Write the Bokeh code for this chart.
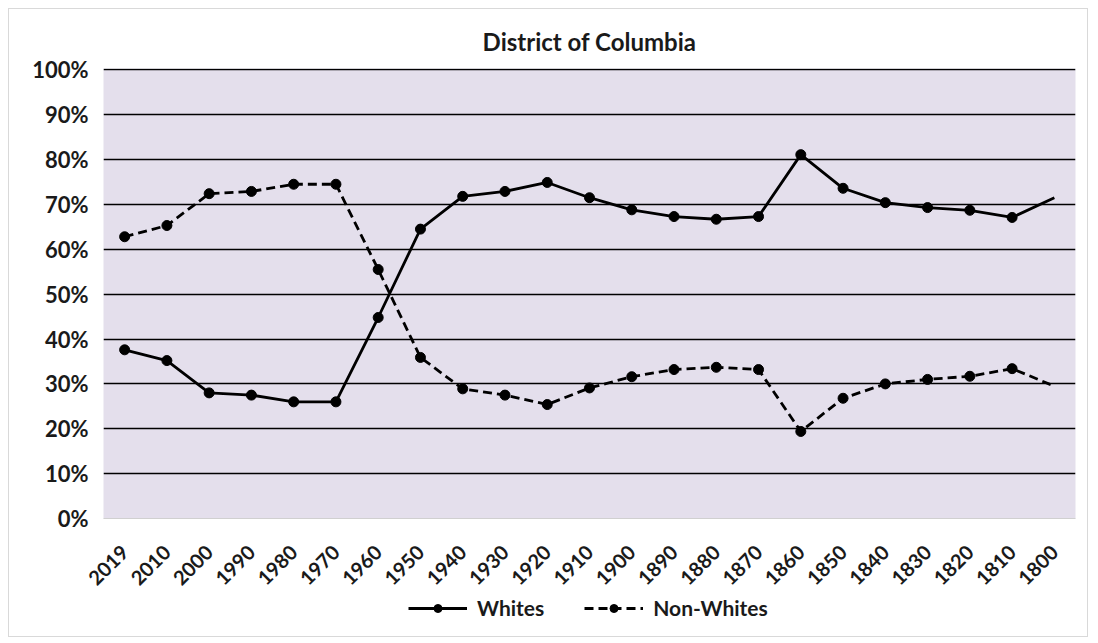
import math
from bokeh.plotting import figure
from bokeh.layouts import column
from bokeh.models import (FixedTicker, PrintfTickFormatter, Legend, LegendItem,
                          FactorRange, Range1d, ColumnDataSource)
from bokeh.embed import file_html
from bokeh.resources import INLINE

# ---- data (percent) ----
years = ["2019", "2010", "2000", "1990", "1980", "1970", "1960", "1950", "1940",
         "1930", "1920", "1910", "1900", "1890", "1880", "1870", "1860", "1850",
         "1840", "1830", "1820", "1810", "1800"]
whites = [37.6, 35.2, 28.0, 27.5, 26.0, 26.0, 44.8, 64.5, 71.8, 72.9, 74.9, 71.5,
          68.8, 67.3, 66.7, 67.3, 81.1, 73.6, 70.4, 69.3, 68.7, 67.1, 71.5]
non_whites = [62.8, 65.3, 72.4, 72.9, 74.5, 74.5, 55.5, 35.9, 28.9, 27.5, 25.4, 29.1,
              31.6, 33.2, 33.7, 33.2, 19.4, 26.8, 30.0, 31.0, 31.7, 33.4, 29.5]
y_ticks = [0, 10, 20, 30, 40, 50, 60, 70, 80, 90, 100]
series_names = ["Whites", "Non-Whites"]
title_text = "District of Columbia"

FONT = "Lato"
TXT = "#1a1a1a"

src = ColumnDataSource(dict(year=years, w=whites, nw=non_whites))
# markers are shown on all points except the last one (1800)
src_m = ColumnDataSource(dict(year=years[:-1], w=whites[:-1], nw=non_whites[:-1]))

p = figure(width=1080, height=585, x_range=FactorRange(*years),
           y_range=Range1d(0, 100.3), output_backend="svg", toolbar_location=None,
           title=title_text, min_border_left=94, min_border_right=12,
           min_border_top=59, min_border_bottom=74)

p.background_fill_color = "#E4DFEC"
p.border_fill_color = "white"
p.outline_line_color = None

p.title.align = "center"
p.title.text_font = FONT
p.title.text_font_size = "24px"
p.title.text_font_style = "bold"
p.title.text_color = TXT
p.title.text_line_height = 0.8
p.title.standoff = 26

# grid
p.xgrid.grid_line_color = None
p.ygrid.ticker = FixedTicker(ticks=y_ticks[1:])
p.ygrid.grid_line_color = "black"
p.ygrid.grid_line_width = 1.6

# y axis
p.yaxis.ticker = FixedTicker(ticks=y_ticks)
p.yaxis.formatter = PrintfTickFormatter(format="%d%%")
p.yaxis.axis_line_color = None
p.yaxis.major_tick_line_color = None
p.yaxis.minor_tick_line_color = None
p.yaxis.major_label_text_font = FONT
p.yaxis.major_label_text_font_size = "22px"
p.yaxis.major_label_text_font_style = "bold"
p.yaxis.major_label_text_color = TXT
p.yaxis.major_label_standoff = 9

# x axis
p.xaxis.axis_line_color = "#d0d0d0"
p.xaxis.major_tick_line_color = None
p.xaxis.minor_tick_line_color = None
p.xaxis.major_label_orientation = math.pi / 4
p.xaxis.major_label_text_font = FONT
p.xaxis.major_label_text_font_size = "20px"
p.xaxis.major_label_text_font_style = "bold"
p.xaxis.major_label_text_color = TXT
p.xaxis.major_label_standoff = 24

# series
p.line("year", "w", source=src, line_color="black", line_width=2.8)
p.scatter("year", "w", source=src_m, size=10, color="black")
p.line("year", "nw", source=src, line_color="black", line_width=2.8,
       line_dash="9 5")
p.scatter("year", "nw", source=src_m, size=10, color="black")

# ---- legend strip below the chart (same data, drawn out of view) ----
lg = figure(width=1080, height=42, x_range=FactorRange(*years),
            y_range=Range1d(500, 600), output_backend="svg",
            toolbar_location=None, x_axis_type=None, y_axis_type=None,
            min_border=0)
lg.outline_line_color = None
lg.background_fill_color = "white"
lg.border_fill_color = "white"
r1 = lg.line("year", "w", source=src, line_color="black", line_width=2.8)
r1m = lg.scatter("year", "w", source=src_m, size=10, color="black")
r2 = lg.line("year", "nw", source=src, line_color="black", line_width=2.8,
             line_dash="9 5")
r2m = lg.scatter("year", "nw", source=src_m, size=10, color="black")

legend = Legend(items=[LegendItem(label=series_names[0], renderers=[r1, r1m]),
                       LegendItem(label=series_names[1], renderers=[r2, r2m])],
                orientation="horizontal", location=(305, 16),
                border_line_color=None, background_fill_alpha=0,
                label_text_font=FONT, label_text_font_size="21px",
                label_text_font_style="bold", label_text_color=TXT,
                glyph_width=59, glyph_height=20, label_standoff=10,
                spacing=40, padding=0, margin=0)
lg.add_layout(legend, "center")

layout = column(p, lg, spacing=0)
layout.styles = {"border": "1px solid #d9d9d9", "margin": "8px 0 0 8px",
                 "width": "1080px"}

open("out.html", "w").write(file_html(layout, INLINE))
